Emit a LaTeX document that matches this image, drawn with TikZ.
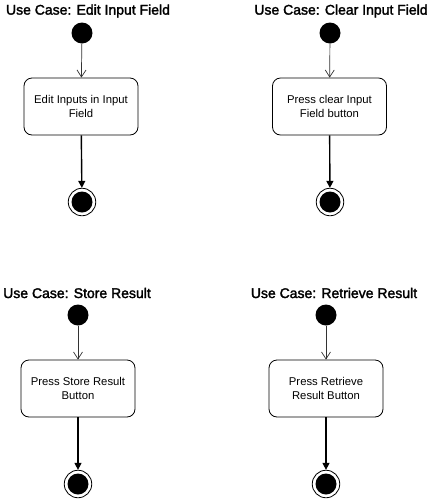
\documentclass[tikz,border=0pt]{standalone}
\usepackage{fontspec}
\setmainfont{Liberation Sans}
\newfontfamily\titlefont{Liberation Sans}[FakeBold=2]
\usepackage{tikz}
\usetikzlibrary{arrows.meta}

\begin{document}
\begin{tikzpicture}[x=1pt,y=-1pt,
  title/.style={font=\titlefont\fontsize{14}{16}\selectfont, inner sep=0pt},
  start/.style={circle, fill=black, minimum size=21pt, inner sep=0pt},
  action/.style={draw, line width=0.8pt, rounded corners=8pt, minimum width=114pt, minimum height=57pt, align=center, inner sep=0pt, font=\fontsize{11.3}{14}\selectfont},
  final/.style={circle, draw, line width=0.8pt, minimum size=27.5pt, inner sep=0pt, path picture={\fill[black] (path picture bounding box.center) circle (10.5pt);}},
  flowin/.style={-{Straight Barb[length=7pt,width=9pt]}, line width=0.7pt, black!80},
  flowout/.style={-{Triangle[length=7pt,width=7pt]}, line width=1.4pt}]
  \useasboundingbox (0,0) rectangle (443,499);
  % edit input field
  \node[title] (t1) at (88,11) {Use Case: Edit Input Field};
  \node[start] (s1) at (82,33) {};
  \node[action] (a1) at (81,106.5) {Edit Inputs in Input\\Field};
  \node[final] (e1) at (82,202) {};
  \draw[flowin] (s1) -- (a1);
  \draw[flowout] (a1) -- (e1);
  % clear input field
  \node[title] (t2) at (341,11) {Use Case: Clear Input Field};
  \node[start] (s2) at (330,33) {};
  \node[action] (a2) at (329.5,106.5) {Press clear Input\\Field button};
  \node[final] (e2) at (330,202) {};
  \draw[flowin] (s2) -- (a2);
  \draw[flowout] (a2) -- (e2);
  % store result
  \node[title] (t3) at (77,293) {Use Case: Store Result};
  \node[start] (s3) at (78,315) {};
  \node[action] (a3) at (78,388.5) {Press Store Result\\Button};
  \node[final] (e3) at (78,484) {};
  \draw[flowin] (s3) -- (a3);
  \draw[flowout] (a3) -- (e3);
  % retrieve result
  \node[title] (t4) at (334,293) {Use Case: Retrieve Result};
  \node[start] (s4) at (326,315) {};
  \node[action] (a4) at (326,388.5) {Press Retrieve\\Result Button};
  \node[final] (e4) at (326,484) {};
  \draw[flowin] (s4) -- (a4);
  \draw[flowout] (a4) -- (e4);
\end{tikzpicture}
\end{document}
